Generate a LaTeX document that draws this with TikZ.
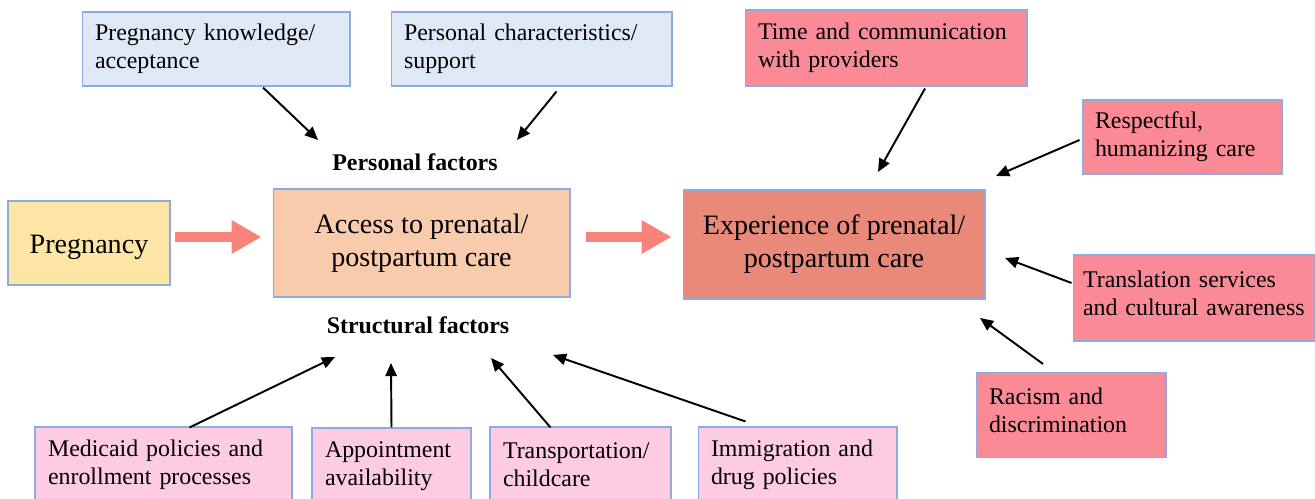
\documentclass[tikz,border=0pt]{standalone}
\usepackage{fontspec}
\setmainfont{Liberation Serif}
\usepackage{xcolor}
\usepackage{tikz}
\usetikzlibrary{arrows.meta}
\usetikzlibrary{positioning}
\usetikzlibrary{calc}
\definecolor{boxline}{HTML}{8FAADC}
\definecolor{pregfill}{HTML}{FDE6A5}
\definecolor{accfill}{HTML}{F8CBAD}
\definecolor{expfill}{HTML}{E8897A}
\definecolor{bluefill}{HTML}{DEE9F5}
\definecolor{redfill}{HTML}{FA8B96}
\definecolor{pinkfill}{HTML}{FDCCE3}
\definecolor{bigarrow}{HTML}{F9837B}
\tikzset{
  fac/.style = {draw=boxline, line width=0.6pt, align=left, inner ysep=0pt,
    inner xsep=0.26cm, font=\fontsize{13.6}{16}\selectfont},% factor box
  fac_b/.style = {fac, fill=bluefill},% personal factor
  fac_r/.style = {fac, fill=redfill},% experience factor
  fac_p/.style = {fac, fill=pinkfill},% structural factor
  fac_up/.style = {execute at end node={\rule[-5pt]{0pt}{5pt}}},% text a bit higher
  main/.style = {draw=boxline, line width=0.6pt, align=center, inner sep=0pt,
    font=\fontsize{16}{18.7}\selectfont,
    execute at begin node={\rule{0pt}{15.5pt}}},% main box
  lbl/.style = {font=\bfseries\fontsize{13.6}{16}\selectfont},% group label
  fat/.style = {-{Triangle[length=17pt,width=18pt]}, line width=5.7pt,
    draw=bigarrow}% thick arrow
}

\begin{document}
\begin{tikzpicture}[x=0.02cm,y=-0.02cm,->,>={Triangle[length=7.5pt,width=6.5pt]},
  line width=1.1pt]
\useasboundingbox (0,0) rectangle (1315,499);

% main chain
\node [main, fill=pregfill, minimum width=3.24cm, minimum height=1.68cm] (preg) at (89,243) {Pregnancy};
\node [main, fill=accfill, minimum width=5.94cm, minimum height=2.16cm] (access) at (421.5,243) {Access to prenatal/\\postpartum care};
\node [main, fill=expfill, minimum width=6.04cm, minimum height=2.18cm] (exper) at (834,244.5) {Experience of prenatal/\\postpartum care};

\draw [fat] ($(preg.east)+(4,-6)$) -- ($(access.west)+(-11,-6)$);
\draw [fat] ($(access.east)+(15,-6)$) -- ($(exper.west)+(-11,-7.5)$);

% personal factors
\node [lbl] (persLbl) at (415,162) {Personal factors};
\node [fac_b, text width=4.84cm, minimum height=1.48cm] (know) at (216,49) {Pregnancy knowledge/\\acceptance};
\node [fac_b, text width=5.10cm, minimum height=1.48cm] (pers) at (531.5,49) {Personal characteristics/\\support};

\coordinate (kE) at (318,140);
\coordinate (pE) at (517,140);
\draw ($(know.south)+(47,1)$) -- (kE);
\draw ($(pers.south)+(25,5)$) -- (pE);

% structural factors
\node [lbl] (strLbl) at (418,325) {Structural factors};
\node [fac_p, text width=4.62cm, minimum height=1.52cm] (medic) at (163.5,465) {Medicaid policies and\\enrollment processes};
\node [fac_p, text width=2.66cm, minimum height=1.52cm] (appt) at (391.5,466) {Appointment\\availability};
\node [fac_p, text width=3.10cm, minimum height=1.52cm] (transp) at (580.5,465) {Transportation/\\childcare};
\node [fac_p, text width=3.46cm, minimum height=1.52cm] (immig) at (797.5,465) {Immigration and\\drug policies};

\coordinate (mE) at (335,357);
\coordinate (aE) at (391,363);
\coordinate (tpE) at (491,358);
\coordinate (iE) at (553,355);
\draw ($(medic.north)+(26,1)$) -- (mE);
\draw (appt.north) -- (aE);
\draw ($(transp.north)+(-30,1)$) -- (tpE);
\draw ($(immig.north)+(-52,-5)$) -- (iE);

% care experience factors
\node [fac_r, text width=5.12cm, minimum height=1.52cm] (time) at (886,48) {Time and communication\\with providers};
\node [fac_r, text width=3.48cm, minimum height=1.48cm] (resp) at (1182,137) {Respectful,\\humanizing care};
\node [fac_r, fac_up, text width=4.44cm, inner xsep=0.2cm, minimum height=1.72cm] (transl) at (1194,298) {Translation services\\and cultural awareness};
\node [fac_r, fac_up, text width=3.28cm, minimum height=1.70cm] (racism) at (1071,415) {Racism and\\discrimination};

\coordinate (tE) at (878,172);
\coordinate (rE) at (996,176);
\coordinate (trE) at (1005,258);
\coordinate (raE) at (980,318);
\draw ($(time.south)+(39,2)$) -- (tE);
\draw ($(resp.west)+(-2,3)$) -- (rE);
\draw ($(transl.west)+(-1,-15)$) -- (trE);
\draw ($(racism.north)+(-28,-8)$) -- (raE);
\end{tikzpicture}
\end{document}
